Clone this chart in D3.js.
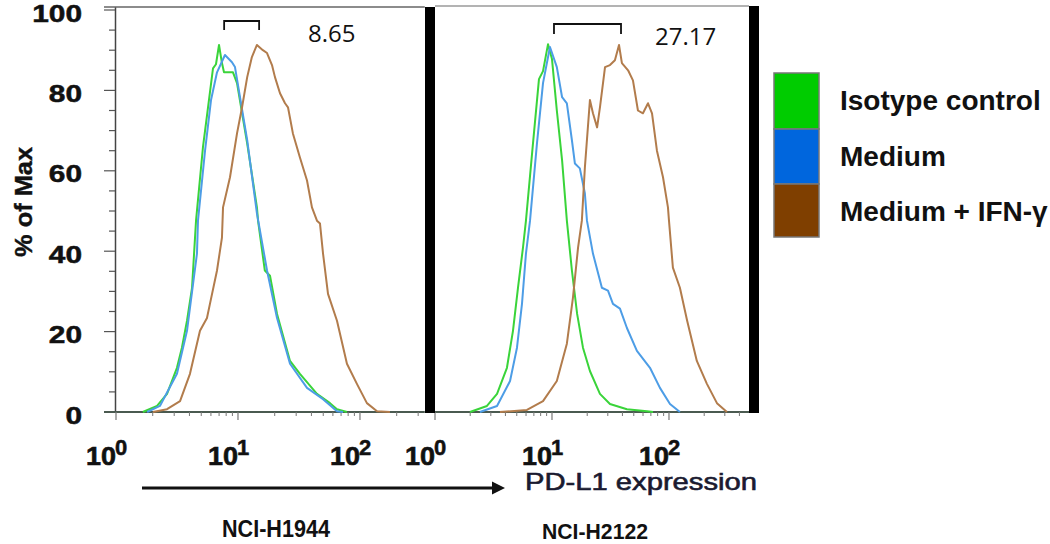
<!DOCTYPE html>
<html><head><meta charset="utf-8">
<script src="https://cdn.jsdelivr.net/npm/d3@7"></script>
<style>body{margin:0;background:#fff}svg{display:block}</style>
</head><body>
<svg id="c" width="1050" height="544"></svg>
<script>
// ---------------- data ----------------
const yTickValues = [0, 20, 40, 60, 80, 100];
const decadeTicks = [1, 10, 100];
const decadeExponents = ["0", "1", "2"];
const seriesNames = ["Isotype control", "Medium", "Medium + IFN-γ"];
const cellLines = ["NCI-H1944", "NCI-H2122"];
const foldLabels = ["8.65", "27.17"];
const bracketH1944 = [7.7, 14.9];
const bracketH2122 = [10.4, 38.9];
const xAxisTitle = "PD-L1 expression";
const yAxisTitle = "% of Max";

// [fluorescence intensity, % of max]
const h1944Isotype = [[1.66,0],[2.17,1.5],[2.62,4.5],[3.16,11],[3.47,16],[3.82,22.7],[4.20,30.9],[4.53,47.6],[5.16,65.8],[6.24,85.5],[6.60,86.5],[6.99,91.3],[7.39,86.8],[7.68,84.5],[9.10,84.5],[9.82,81.8],[11.9,66.8],[14.3,50.9],[14.6,47.6],[16.6,35.2],[18.3,33.9],[20.9,24.4],[26.7,12.7],[32.2,9.5],[44.4,4.5],[56.8,2.2],[64.8,0.7],[78.2,0]];
const h1944Medium = [[1.80,0],[2.29,1.5],[3.16,9.5],[3.82,20.2],[4.61,39.4],[4.70,47.6],[5.37,65],[6.01,77.6],[6.73,84.5],[7.82,88.8],[8.93,87.0],[9.45,85.8],[11.9,67.6],[14.3,49.4],[17.3,35.2],[20.9,23.4],[26.7,12],[36.8,6],[49.8,3.2],[64.8,0.2],[72.6,0]];
const h1944IFN = [[2.01,0],[2.62,0.7],[3.35,2.7],[4.04,9.5],[4.88,20.2],[5.57,23.4],[5.89,26.9],[6.73,35.2],[7.39,43.4],[7.54,50.9],[8.60,58.4],[9.82,69.3],[10.8,75.8],[11.9,83.3],[13.0,88.3],[14.3,91.3],[16.0,90],[17.3,89.3],[19.0,86.3],[20.1,83.3],[22.1,79.3],[24.3,76.8],[25.7,75.8],[28.2,69.3],[32.2,63.3],[36.8,57.6],[40.4,50.9],[44.4,47.6],[47.0,46.9],[49.8,39.4],[54.7,29.4],[64.8,22.7],[78.2,12],[94.4,7],[114,2.2],[138,0.2],[176,0]];
const h2122Isotype = [[1.99,0],[2.78,1.5],[3.39,4.5],[4.12,11],[4.64,20.2],[5.12,30.9],[5.65,40.9],[5.99,47.6],[6.88,66.8],[7.74,82.8],[8.38,84.8],[9.25,91.5],[10.0,87.8],[11.0,75],[12.2,62.6],[13.4,47.6],[14.8,35.2],[16.4,24.4],[18.4,16],[21.1,10.2],[25.7,4.5],[31.3,2],[43.7,0.7],[64.9,0.2],[73.0,0]];
const h2122Medium = [[2.42,0],[3.39,1.5],[4.38,7.7],[5.02,16],[5.54,26.9],[5.99,39.4],[6.49,47.6],[7.44,66.8],[8.38,81.8],[9.61,90.8],[11.0,85.8],[12.2,78.3],[13.4,76.8],[14.8,67.6],[15.7,61.8],[17.3,60.6],[19.1,54.4],[19.9,47.6],[22.4,39.4],[26.7,30.9],[30.1,30.2],[33.2,26.9],[38.1,25.7],[43.7,20.9],[53.2,15.2],[68.8,11],[83.7,6],[102,2],[124,0]];
const h2122IFN = [[3.59,0],[6.11,0.5],[8.38,2.7],[11.0,7.7],[13.4,17],[15.1,28.4],[16.7,40.9],[18.0,47.6],[19.1,60.8],[21.1,77.6],[22.4,74.3],[24.3,70.8],[25.7,75.8],[28.4,85.8],[31.3,86.3],[34.5,87.5],[37.4,91.3],[39.6,86.8],[44.7,85],[49.2,82.5],[54.3,75],[59.9,74.3],[66.2,76.8],[71.6,74.3],[78.9,65],[88.9,58.4],[98.0,50.9],[100,47.6],[108,35.9],[124,30.9],[143,22.7],[173,12.7],[211,7],[257,2.2],[313,0]];

// ---------------- styles / layout ----------------
const legendFill = ["#00cc00", "#0066dd", "#7f3f00"];
const lineColors = ["#3ad43a", "#4d9de6", "#b27c4c"];
const FONT = "'Liberation Sans', Arial, sans-serif";

const svg = d3.select("#c");
const y = d3.scaleLinear().domain([0, 100]).range([412, 10]);

const panels = [
  { x: d3.scaleLog().domain([1, 340]).range([116, 424.8]), top: 7,
    data: [h1944Isotype, h1944Medium, h1944IFN], bracket: bracketH1944,
    bracketY: [21, 30], label: foldLabels[0], labelX: 308, labelY: 42,
    name: cellLines[0], nameX: 276, nameY: 537, nameLen: 108, nameSize: 23 },
  { x: d3.scaleLog().domain([1, 483]).range([435, 749]), top: 6,
    data: [h2122Isotype, h2122Medium, h2122IFN], bracket: bracketH2122,
    bracketY: [24, 34], label: foldLabels[1], labelX: 655, labelY: 45,
    name: cellLines[1], nameX: 595, nameY: 539, nameLen: 106, nameSize: 22 }
];

// ---------- left y axis ----------
svg.append("line").attr("x1", 115.5).attr("x2", 115.5).attr("y1", 7).attr("y2", 412)
  .attr("stroke", "#444").attr("stroke-width", 1.5);
const yMinor = d3.range(0, 101, 5);
svg.selectAll(".ytick").data(yMinor).join("line")
  .attr("x1", d => d % 20 === 0 ? 104 : 109).attr("x2", 115)
  .attr("y1", d => y(d)).attr("y2", d => y(d))
  .attr("stroke", "#555").attr("stroke-width", 1.2);
svg.selectAll(".ylab").data(yTickValues).join("text")
  .attr("x", 82).attr("y", d => y(d) + 11.5)
  .attr("text-anchor", "end")
  .attr("font-family", FONT).attr("font-weight", "bold").attr("font-size", 24)
  .attr("stroke", "#111").attr("stroke-width", 0.5)
  .attr("textLength", d => String(d).length * 16.6).attr("lengthAdjust", "spacingAndGlyphs")
  .attr("fill", "#111").text(d => d);
svg.append("text")
  .attr("transform", "translate(32,202) rotate(-90)")
  .attr("text-anchor", "middle")
  .attr("font-family", FONT).attr("font-weight", "bold").attr("font-size", 24)
  .attr("stroke", "#111").attr("stroke-width", 0.4)
  .attr("textLength", 110).attr("lengthAdjust", "spacingAndGlyphs")
  .attr("fill", "#111").text(yAxisTitle);

// ---------- panels ----------
panels.forEach((p, pi) => {
  const [r0, r1] = p.x.range();
  const g = svg.append("g");
  g.append("line").attr("x1", pi === 0 ? 104 : r0).attr("x2", r1).attr("y1", p.top).attr("y2", p.top)
    .attr("stroke", pi === 0 ? "#666" : "#9a9a9a").attr("stroke-width", 1.5);
  g.append("line").attr("x1", pi === 0 ? 104 : r0).attr("x2", r1).attr("y1", 412).attr("y2", 412)
    .attr("stroke", "#4a5a50").attr("stroke-width", 2);
  const maxV = p.x.domain()[1];
  const minor = [];
  decadeTicks.forEach(d => { for (let m = 2; m <= 9; m++) if (d * m <= maxV) minor.push(d * m); });
  g.selectAll(".mt").data(minor).join("line")
    .attr("x1", d => p.x(d)).attr("x2", d => p.x(d)).attr("y1", 412).attr("y2", 416)
    .attr("stroke", "#777").attr("stroke-width", 1);
  g.selectAll(".Mt").data(decadeTicks).join("line")
    .attr("x1", d => p.x(d)).attr("x2", d => p.x(d)).attr("y1", 412).attr("y2", 420)
    .attr("stroke", "#777").attr("stroke-width", 1.2);
  decadeTicks.forEach((d, i) => {
    const tx = p.x(d);
    g.append("text").attr("x", tx).attr("y", 465).attr("text-anchor", "end")
      .attr("font-family", FONT).attr("font-weight", "bold").attr("font-size", 25)
      .attr("stroke", "#111").attr("stroke-width", 0.6)
      .attr("textLength", 30).attr("lengthAdjust", "spacingAndGlyphs")
      .attr("fill", "#111").text("10");
    g.append("text").attr("x", tx - 1).attr("y", 455).attr("text-anchor", "start")
      .attr("font-family", FONT).attr("font-weight", "bold").attr("font-size", 22)
      .attr("stroke", "#111").attr("stroke-width", 0.5)
      .attr("fill", "#111").text(decadeExponents[i]);
  });
  const line = d3.line().x(d => p.x(d[0])).y(d => y(d[1]));
  p.data.forEach((s, si) => {
    g.append("path").datum(s).attr("d", line)
      .attr("fill", "none").attr("stroke", lineColors[si]).attr("stroke-width", 2)
      .attr("stroke-linejoin", "round");
  });
  const bx0 = p.x(p.bracket[0]), bx1 = p.x(p.bracket[1]);
  g.append("path")
    .attr("d", `M${bx0},${p.bracketY[1]}V${p.bracketY[0]}H${bx1}V${p.bracketY[1]}`)
    .attr("fill", "none").attr("stroke", "#111").attr("stroke-width", 1.8);
  g.append("text").attr("x", p.labelX).attr("y", p.labelY)
    .attr("font-family", "'Open Sans', 'Noto Sans', sans-serif").attr("font-size", 24)
    .attr("fill", "#111").text(p.label);
  g.append("text").attr("x", p.nameX).attr("y", p.nameY).attr("text-anchor", "middle")
    .attr("font-family", FONT).attr("font-weight", "bold").attr("font-size", p.nameSize)
    .attr("textLength", p.nameLen).attr("lengthAdjust", "spacingAndGlyphs")
    .attr("fill", "#111").text(p.name);
});

// thick black separator bars
svg.append("rect").attr("x", 425).attr("y", 7).attr("width", 10).attr("height", 406).attr("fill", "#000");
svg.append("rect").attr("x", 749).attr("y", 6).attr("width", 10).attr("height", 407).attr("fill", "#000");

// arrow + axis title
svg.append("line").attr("x1", 142).attr("x2", 494).attr("y1", 488).attr("y2", 488)
  .attr("stroke", "#111").attr("stroke-width", 3);
svg.append("path").attr("d", "M505,488L492,481.5L492,494.5Z").attr("fill", "#111");
svg.append("text").attr("x", 525).attr("y", 490)
  .attr("font-family", FONT).attr("font-size", 24)
  .attr("stroke", "#1a1a30").attr("stroke-width", 0.6)
  .attr("textLength", 232).attr("lengthAdjust", "spacingAndGlyphs")
  .attr("fill", "#1a1a30").text(xAxisTitle);

// legend
const lg = svg.append("g");
const legTops = [73, 129, 184, 237];
seriesNames.forEach((n, i) => {
  lg.append("rect").attr("x", 774).attr("y", legTops[i]).attr("width", 45)
    .attr("height", legTops[i + 1] - legTops[i])
    .attr("fill", legendFill[i]).attr("stroke", "#777").attr("stroke-width", 1.5);
  lg.append("text").attr("x", 840).attr("y", [110, 166, 221][i])
    .attr("font-family", FONT).attr("font-weight", "bold").attr("font-size", 28)
    .attr("fill", "#111").text(n);
});
</script>
</body></html>
